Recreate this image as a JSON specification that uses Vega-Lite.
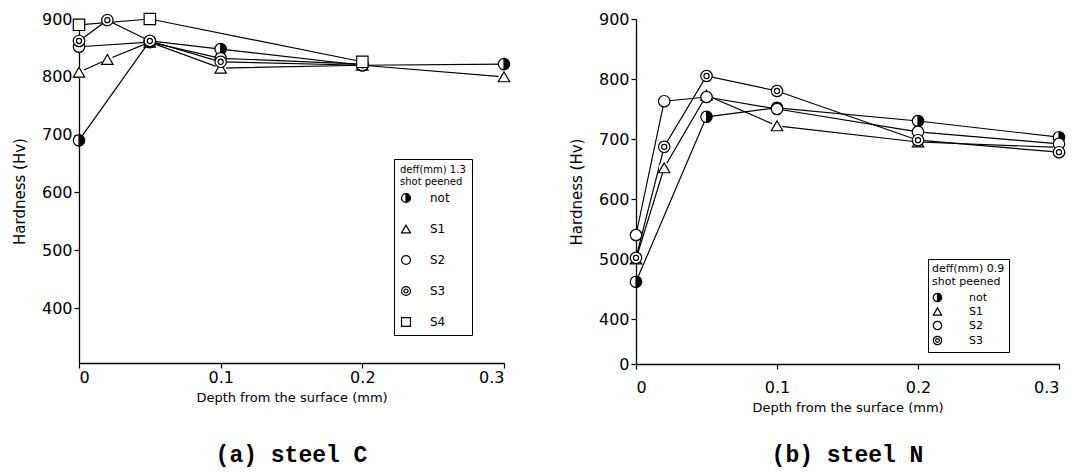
{
  "$schema": "https://vega.github.io/schema/vega-lite/v6.json",
  "background": "white",
  "padding": {"left": 12, "top": 10, "right": 10, "bottom": 5},
  "datasets": {
    "steelC": [
      {"series": "not", "depth": 0, "hv": 690},
      {"series": "not", "depth": 0.05, "hv": 862},
      {"series": "not", "depth": 0.1, "hv": 848},
      {"series": "not", "depth": 0.2, "hv": 820},
      {"series": "not", "depth": 0.3, "hv": 822},
      {"series": "S1", "depth": 0, "hv": 808},
      {"series": "S1", "depth": 0.02, "hv": 830},
      {"series": "S1", "depth": 0.05, "hv": 860},
      {"series": "S1", "depth": 0.1, "hv": 815},
      {"series": "S1", "depth": 0.2, "hv": 820},
      {"series": "S1", "depth": 0.3, "hv": 800},
      {"series": "S2", "depth": 0, "hv": 852},
      {"series": "S2", "depth": 0.05, "hv": 860},
      {"series": "S2", "depth": 0.1, "hv": 832},
      {"series": "S2", "depth": 0.2, "hv": 822},
      {"series": "S3", "depth": 0, "hv": 862},
      {"series": "S3", "depth": 0.02, "hv": 898},
      {"series": "S3", "depth": 0.05, "hv": 862},
      {"series": "S3", "depth": 0.1, "hv": 826},
      {"series": "S3", "depth": 0.2, "hv": 820},
      {"series": "S4", "depth": 0, "hv": 890},
      {"series": "S4", "depth": 0.05, "hv": 900},
      {"series": "S4", "depth": 0.2, "hv": 826}
    ],
    "steelN": [
      {"series": "not", "depth": 0, "hv": 462},
      {"series": "not", "depth": 0.05, "hv": 737},
      {"series": "not", "depth": 0.1, "hv": 752},
      {"series": "not", "depth": 0.2, "hv": 730},
      {"series": "not", "depth": 0.3, "hv": 703},
      {"series": "S1", "depth": 0, "hv": 500},
      {"series": "S1", "depth": 0.02, "hv": 652},
      {"series": "S1", "depth": 0.05, "hv": 773},
      {"series": "S1", "depth": 0.1, "hv": 722},
      {"series": "S1", "depth": 0.2, "hv": 695},
      {"series": "S1", "depth": 0.3, "hv": 686},
      {"series": "S2", "depth": 0, "hv": 540},
      {"series": "S2", "depth": 0.02, "hv": 763},
      {"series": "S2", "depth": 0.05, "hv": 770},
      {"series": "S2", "depth": 0.1, "hv": 750},
      {"series": "S2", "depth": 0.2, "hv": 712},
      {"series": "S2", "depth": 0.3, "hv": 692},
      {"series": "S3", "depth": 0, "hv": 502},
      {"series": "S3", "depth": 0.02, "hv": 687},
      {"series": "S3", "depth": 0.05, "hv": 805},
      {"series": "S3", "depth": 0.1, "hv": 780},
      {"series": "S3", "depth": 0.2, "hv": 698},
      {"series": "S3", "depth": 0.3, "hv": 678}
    ]
  },
  "config": {
    "view": {"stroke": null},
    "axis": {
      "domainColor": "black", "tickColor": "black", "labelColor": "black", "titleColor": "black",
      "grid": false, "labelFont": "DejaVu Sans", "titleFont": "DejaVu Sans",
      "labelFontSize": 16, "titleFontSize": 15, "titleFontWeight": "normal",
      "domainWidth": 1.3, "tickWidth": 1.2, "tickSize": 5
    },
    "axisY": {"titlePadding": 14},
    "axisX": {"titleFontSize": 13, "titlePadding": 6},
    "legend": {
      "strokeColor": "black", "strokeWidth": 1, "padding": 6, "fillColor": "white",
      "titleFont": "DejaVu Sans", "titleFontSize": 10, "titleFontWeight": "normal", "titleColor": "black",
      "labelFont": "DejaVu Sans", "labelFontSize": 12, "labelColor": "black",
      "symbolStrokeWidth": 1.2, "labelOffset": 18
    }
  },
  "spacing": 56,
  "resolve": {
    "scale": {"shape": "independent", "fill": "independent", "stroke": "independent"},
    "legend": {"shape": "independent", "fill": "independent", "stroke": "independent"}
  },
  "hconcat": [
    {
      "width": 425, "height": 344,
      "data": {"name": "steelC"},
      "title": {"text": "(a) steel C", "orient": "bottom", "anchor": "middle", "offset": 40, "font": "Liberation Mono", "fontSize": 23, "fontWeight": "bold", "color": "black"},
      "encoding": {
        "x": {"field": "depth", "type": "quantitative", "scale": {"domain": [0, 0.3], "nice": false},
              "axis": {"values": [0, 0.1, 0.2, 0.3], "format": "~g", "title": "Depth from the surface  (mm)", "labelPadding": 1}},
        "y": {"field": "hv", "type": "quantitative", "scale": {"domain": [305, 900], "nice": false, "zero": false},
              "axis": {"values": [400, 500, 600, 700, 800, 900], "title": "Hardness  (Hv)"}}
      },
      "layer": [
        {"mark": {"type": "line", "color": "black", "strokeWidth": 1.2}, "encoding": {"detail": {"field": "series"}}},
        {"mark": {"type": "point", "shape": "circle", "filled": true, "fill": "white", "strokeWidth": 0, "size": 120, "opacity": 1}, "encoding": {}},
        {
          "mark": {"type": "point", "filled": true, "strokeWidth": 1.2, "size": 130, "opacity": 1},
          "encoding": {
            "shape": {"field": "series", "type": "nominal",
              "scale": {"domain": ["not", "S1", "S2", "S3", "S4"],
                        "range": ["M0,-1A1,1,0,0,0,0,1A1,1,0,0,1,0,-1ZM0,-1A1,1,0,0,1,0,1Z", "triangle-up", "circle", "M-1,0A1,1,0,1,0,1,0A1,1,0,1,0,-1,0ZM-0.45,0A0.45,0.45,0,1,0,0.45,0A0.45,0.45,0,1,0,-0.45,0Z", "square"]},
              "legend": {"orient": "none", "legendX": 315, "legendY": 140, "title": ["deff(mm) 1.3", "shot peened"], "rowPadding": 17, "symbolSize": 80}},
            "fill": {"field": "series", "type": "nominal",
              "scale": {"domain": ["not", "S1", "S2", "S3", "S4"], "range": ["black", "white", "white", "white", "white"]},
              "legend": {"orient": "none", "legendX": 315, "legendY": 140, "title": ["deff(mm) 1.3", "shot peened"], "rowPadding": 17, "symbolSize": 80}},
            "stroke": {"field": "series", "type": "nominal",
              "scale": {"domain": ["not", "S1", "S2", "S3", "S4"], "range": ["black", "black", "black", "black", "black"]},
              "legend": {"orient": "none", "legendX": 315, "legendY": 140, "title": ["deff(mm) 1.3", "shot peened"], "rowPadding": 17, "symbolSize": 80}}
          }
        }
      ]
    },
    {
      "width": 423, "height": 345,
      "data": {"name": "steelN"},
      "title": {"text": "(b) steel N", "orient": "bottom", "anchor": "middle", "offset": 30, "font": "Liberation Mono", "fontSize": 23, "fontWeight": "bold", "color": "black"},
      "encoding": {
        "x": {"field": "depth", "type": "quantitative", "scale": {"domain": [0, 0.3], "nice": false},
              "axis": {"values": [0, 0.1, 0.2, 0.3], "format": "~g", "title": "Depth from the surface  (mm)", "labelPadding": 10}},
        "y": {"field": "hv", "type": "quantitative", "scale": {"domain": [325, 900], "nice": false, "zero": false},
              "axis": {"values": [325, 400, 500, 600, 700, 800, 900], "labelExpr": "datum.value == 325 ? '0' : datum.label", "title": "Hardness      (Hv)"}}
      },
      "layer": [
        {"mark": {"type": "line", "color": "black", "strokeWidth": 1.2}, "encoding": {"detail": {"field": "series"}}},
        {"mark": {"type": "point", "shape": "circle", "filled": true, "fill": "white", "strokeWidth": 0, "size": 120, "opacity": 1}, "encoding": {}},
        {
          "mark": {"type": "point", "filled": true, "strokeWidth": 1.2, "size": 130, "opacity": 1},
          "encoding": {
            "shape": {"field": "series", "type": "nominal",
              "scale": {"domain": ["not", "S1", "S2", "S3"],
                        "range": ["M0,-1A1,1,0,0,0,0,1A1,1,0,0,1,0,-1ZM0,-1A1,1,0,0,1,0,1Z", "triangle-up", "circle", "M-1,0A1,1,0,1,0,1,0A1,1,0,1,0,-1,0ZM-0.45,0A0.45,0.45,0,1,0,0.45,0A0.45,0.45,0,1,0,-0.45,0Z"]},
              "legend": {"orient": "none", "legendX": 292, "legendY": 240, "title": ["deff(mm) 0.9", "shot peened"], "titleFontSize": 11, "rowPadding": 0, "padding": 4, "symbolSize": 70, "labelFontSize": 11, "labelOffset": 26}},
            "fill": {"field": "series", "type": "nominal",
              "scale": {"domain": ["not", "S1", "S2", "S3"], "range": ["black", "white", "white", "white"]},
              "legend": {"orient": "none", "legendX": 292, "legendY": 240, "title": ["deff(mm) 0.9", "shot peened"], "titleFontSize": 11, "rowPadding": 0, "padding": 4, "symbolSize": 70, "labelFontSize": 11, "labelOffset": 26}},
            "stroke": {"field": "series", "type": "nominal",
              "scale": {"domain": ["not", "S1", "S2", "S3"], "range": ["black", "black", "black", "black"]},
              "legend": {"orient": "none", "legendX": 292, "legendY": 240, "title": ["deff(mm) 0.9", "shot peened"], "titleFontSize": 11, "rowPadding": 0, "padding": 4, "symbolSize": 70, "labelFontSize": 11, "labelOffset": 26}}
          }
        }
      ]
    }
  ]
}
